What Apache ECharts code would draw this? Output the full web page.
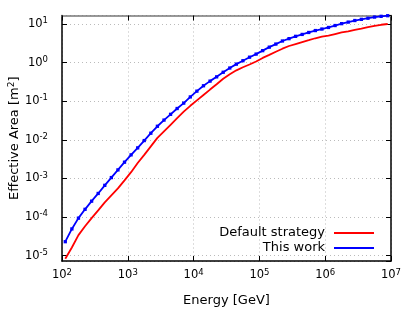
<!DOCTYPE html>
<html>
<head>
<meta charset="utf-8">
<script src="https://cdn.jsdelivr.net/npm/echarts@6/dist/echarts.min.js"></script>
<style>html,body{margin:0;padding:0;background:#fff}#c{width:415px;height:310px}</style>
</head>
<body>
<div id="c"></div>
<script>
// Energy [GeV]
var energies = [1.122e2,1.413e2,1.778e2,2.239e2,2.818e2,3.548e2,4.467e2,5.623e2,7.079e2,8.913e2,
  1.122e3,1.413e3,1.778e3,2.239e3,2.818e3,3.548e3,4.467e3,5.623e3,7.079e3,8.913e3,
  1.122e4,1.413e4,1.778e4,2.239e4,2.818e4,3.548e4,4.467e4,5.623e4,7.079e4,8.913e4,
  1.122e5,1.413e5,1.778e5,2.239e5,2.818e5,3.548e5,4.467e5,5.623e5,7.079e5,8.913e5,
  1.122e6,1.413e6,1.778e6,2.239e6,2.818e6,3.548e6,4.467e6,5.623e6,7.079e6,8.913e6];
// Effective area [m^2], "Default strategy"
var defaultStrategy = [8.32e-6,1.62e-5,3.39e-5,5.75e-5,9.33e-5,1.48e-4,2.40e-4,3.63e-4,5.50e-4,8.91e-4,
  1.45e-3,2.51e-3,4.07e-3,6.76e-3,1.12e-2,1.66e-2,2.45e-2,3.63e-2,5.37e-2,7.59e-2,
  0.105,0.145,0.200,0.275,0.380,0.501,0.631,0.759,0.891,1.07,
  1.32,1.58,1.91,2.29,2.69,3.02,3.39,3.80,4.27,4.68,
  5.01,5.50,6.03,6.46,7.08,7.59,8.32,8.91,9.55,10.0];
// Effective area [m^2], "This work"
var thisWork = [2.29e-5,4.90e-5,9.33e-5,1.58e-4,2.57e-4,4.07e-4,6.61e-4,1.05e-3,1.66e-3,2.63e-3,
  4.07e-3,6.17e-3,9.55e-3,1.48e-2,2.24e-2,3.24e-2,4.57e-2,6.46e-2,8.91e-2,0.129,
  0.182,0.251,0.331,0.427,0.562,0.724,0.912,1.12,1.38,1.66,
  2.04,2.51,3.02,3.63,4.17,4.79,5.37,6.03,6.76,7.41,
  8.13,9.12,10.2,11.2,12.3,13.2,14.1,15.1,15.8,16.4];
var seriesNames = ['Default strategy', 'This work'];
var xTitle = 'Energy [GeV]';
var yTitle = 'Effective Area [m{s|2}]';

var FONT = 'DejaVu Sans';
function pairs(xs, ys){ return xs.map(function(x,i){ return [x, ys[i]]; }); }
function powLabel(v){
  var e = Math.log10(v);
  if (Math.abs(e - Math.round(e)) > 1e-6) return '';
  return '{b|10}{s|' + Math.round(e) + '}';
}
var labelRich = {
  b: {fontFamily: FONT, fontSize: 11.5, color: '#000'},
  s: {fontFamily: FONT, fontSize: 8.5, color: '#000', verticalAlign: 'top', padding: [0,0,6,0]}
};
var XMIN = 100, XMAX = 1e7, YMIN = 7.24e-6, YMAX = 16.6;
var gridLine = {show: true, lineStyle: {color: '#bbb', type: [1, 3], width: 1}};

var chart = echarts.init(document.getElementById('c'), null, {renderer: 'canvas'});
chart.setOption({
  animation: false,
  backgroundColor: '#fff',
  grid: {left: 62, right: 24, top: 15.5, bottom: 49, containLabel: false, outerBoundsMode: 'none'},
  legend: {
    orient: 'vertical', right: 41, top: 226.5, align: 'right',
    itemWidth: 40, itemHeight: 2, itemGap: 2, padding: 0,
    icon: 'rect',
    textStyle: {fontFamily: FONT, fontSize: 13, color: '#000', padding: [0, 4, 0, 0]},
    data: seriesNames
  },
  xAxis: [{
    type: 'log', logBase: 10, min: XMIN, max: XMAX,
    name: xTitle, nameLocation: 'middle', nameGap: 33, nameMoveOverlap: false,
    nameTextStyle: {fontFamily: FONT, fontSize: 13, color: '#000'},
    axisLine: {show: true, onZero: false, lineStyle: {color: '#000', width: 1.5}},
    axisTick: {show: true, inside: true, length: 5, lineStyle: {color: '#000'}},
    minorTick: {show: false},
    axisLabel: {formatter: powLabel, rich: labelRich, margin: 7, showMinLabel: true, showMaxLabel: true},
    splitLine: gridLine
  }, {
    type: 'log', logBase: 10, min: XMIN, max: XMAX, position: 'top',
    axisLine: {show: true, onZero: false, lineStyle: {color: '#777', width: 1.5}},
    axisTick: {show: true, inside: true, length: 5, lineStyle: {color: '#000'}},
    axisLabel: {show: false}, splitLine: {show: false}
  }],
  yAxis: [{
    type: 'log', logBase: 10, min: YMIN, max: YMAX,
    name: yTitle, nameLocation: 'middle', nameGap: 40, nameRotate: 90, nameMoveOverlap: false,
    nameTextStyle: {fontFamily: FONT, fontSize: 13, color: '#000', rich: {s: {fontFamily: FONT, fontSize: 9, color: '#000', verticalAlign: 'top', padding: [0,0,6,0]}}},
    axisLine: {show: true, onZero: false, lineStyle: {color: '#000', width: 1.5}},
    axisTick: {show: true, inside: true, length: 5, lineStyle: {color: '#000'}},
    axisLabel: {formatter: powLabel, rich: labelRich, margin: 14, showMinLabel: false, showMaxLabel: false},
    splitLine: gridLine
  }, {
    type: 'log', logBase: 10, min: YMIN, max: YMAX, position: 'right',
    axisLine: {show: true, onZero: false, lineStyle: {color: '#000', width: 1.5}},
    axisTick: {show: true, inside: true, length: 5, lineStyle: {color: '#000'}},
    axisLabel: {show: false}, splitLine: {show: false}
  }],
  series: [{
    name: seriesNames[0], type: 'line', xAxisIndex: 0, yAxisIndex: 0,
    data: pairs(energies, defaultStrategy),
    showSymbol: false, symbol: 'none',
    lineStyle: {color: '#ff0000', width: 1.8}, itemStyle: {color: '#ff0000'}
  }, {
    name: seriesNames[1], type: 'line', xAxisIndex: 0, yAxisIndex: 0,
    data: pairs(energies, thisWork),
    symbol: 'rect', symbolSize: 3.3, showSymbol: true,
    lineStyle: {color: '#0000ff', width: 1.8}, itemStyle: {color: '#0000ff'}
  }]
});
</script>
</body>
</html>
